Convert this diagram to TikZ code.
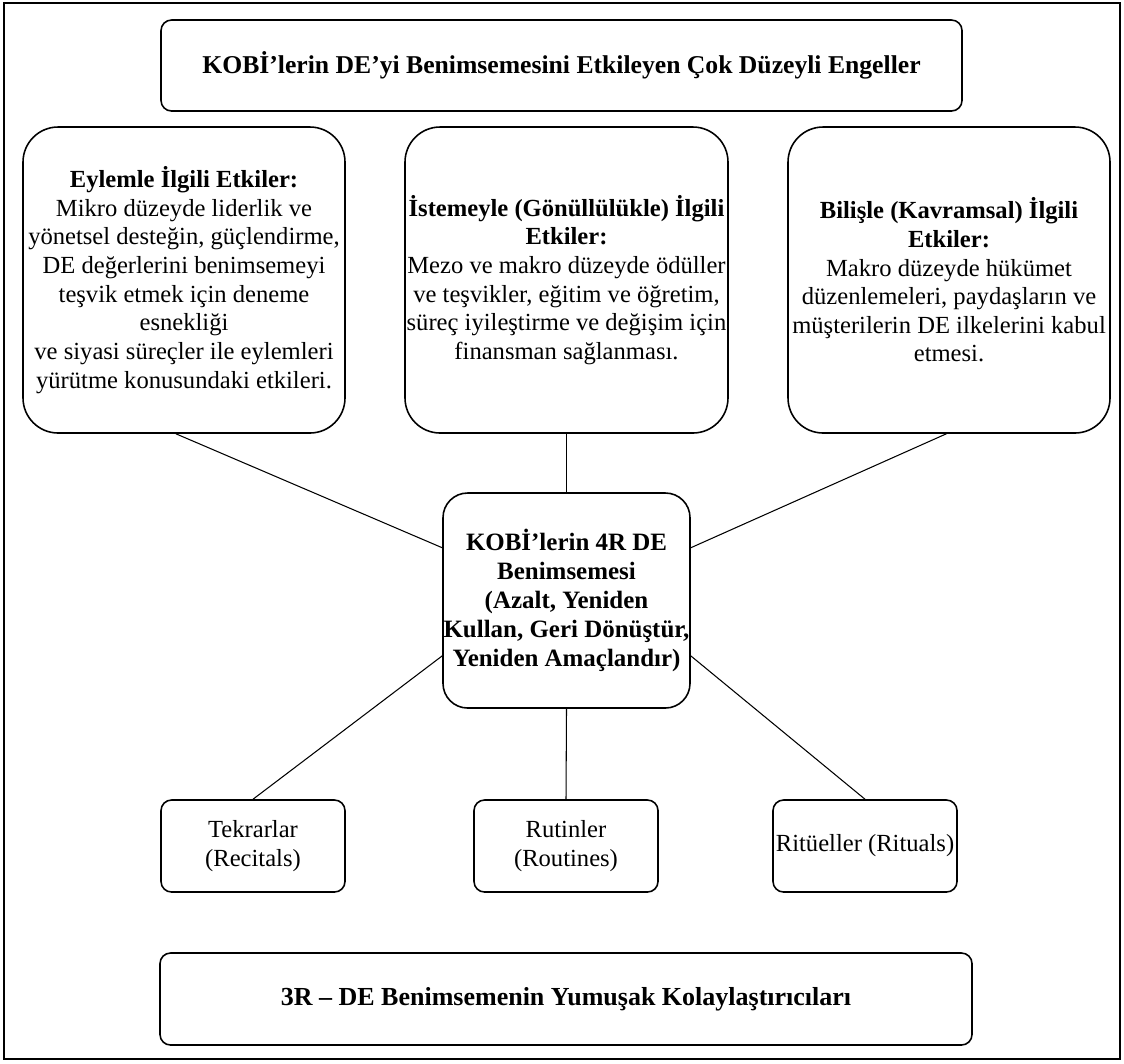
\documentclass[tikz,border=0pt]{standalone}
\usepackage{fontspec}
\setmainfont{Liberation Serif}
\usetikzlibrary{calc}
\begin{document}
\begin{tikzpicture}[x=0.02cm,y=-0.02cm,
  box/.style={draw,line width=0.9pt,align=center,inner sep=0pt,
    font=\fontsize{14}{16.3}\selectfont},
  bigbox/.style={box,rounded corners=20pt},
  smallbox/.style={box,rounded corners=6pt},
  leaf/.style={smallbox,font=\fontsize{14}{17}\selectfont,
    minimum width=184*0.02cm,minimum height=92*0.02cm},
  link/.style={line width=0.6pt}]
  \useasboundingbox (0,0) rectangle (1124,1063);
  \draw[line width=1.3pt] (4,3) rectangle (1120,1059);

  % header
  \node[smallbox,minimum width=801*0.02cm,minimum height=91*0.02cm,
        font=\fontsize{14.6}{16}\selectfont\bfseries] (top) at (561.5,65.5)
        {KOBİ’lerin DE’yi Benimsemesini Etkileyen Çok Düzeyli Engeller};

  % three influence boxes
  \node[bigbox,minimum width=322*0.02cm,minimum height=306*0.02cm] (l) at (184,280)
    {\textbf{Eylemle İlgili Etkiler:}\\
     Mikro düzeyde liderlik ve\\
     yönetsel desteğin, güçlendirme,\\
     DE değerlerini benimsemeyi\\
     teşvik etmek için deneme\\
     esnekliği\\
     ve siyasi süreçler ile eylemleri\\
     yürütme konusundaki etkileri.};
  \node[bigbox,minimum width=323*0.02cm,minimum height=306*0.02cm] (m) at (566.5,280)
    {\textbf{İstemeyle (Gönüllülükle) İlgili}\\
     \textbf{Etkiler:}\\
     Mezo ve makro düzeyde ödüller\\
     ve teşvikler, eğitim ve öğretim,\\
     süreç iyileştirme ve değişim için\\
     finansman sağlanması.};
  \node[bigbox,minimum width=322*0.02cm,minimum height=306*0.02cm] (r) at (949,280)
    {\textbf{Bilişle (Kavramsal) İlgili}\\
     \textbf{Etkiler:}\\
     Makro düzeyde hükümet\\
     düzenlemeleri, paydaşların ve\\
     müşterilerin DE ilkelerini kabul\\
     etmesi.};

  % central node
  \node[box,rounded corners=14pt,minimum width=247*0.02cm,minimum height=215*0.02cm,
        font=\fontsize{14.2}{16.5}\selectfont\bfseries] (c) at (566.5,600.5)
    {KOBİ’lerin 4R DE\\
     Benimsemesi\\
     (Azalt, Yeniden\\
     Kullan, Geri Dönüştür,\\
     Yeniden Amaçlandır)};

  % three facilitators
  \node[leaf] (b1) at (253,846) {Tekrarlar\\(Recitals)};
  \node[leaf] (b2) at (566,846) {Rutinler\\(Routines)};
  \node[leaf] (b3) at (865,846) {Ritüeller (Rituals)};

  % footer
  \node[smallbox,minimum width=812*0.02cm,minimum height=92*0.02cm,
        font=\fontsize{14.8}{16}\selectfont\bfseries] (bot) at (566,999)
    {3R – DE Benimsemenin Yumuşak Kolaylaştırıcıları};

  % connectors
  \draw[link] (l.267) -- (c.157);
  \draw[link] (m.south) -- (c.north);
  \draw[link] (r.269) -- (c.23);
  \draw[link] (c.204) -- (b1.north);
  \draw[link] (c.south) -- (b2.north);
  \draw[link] (c.336) -- (b3.north);
\end{tikzpicture}
\end{document}
